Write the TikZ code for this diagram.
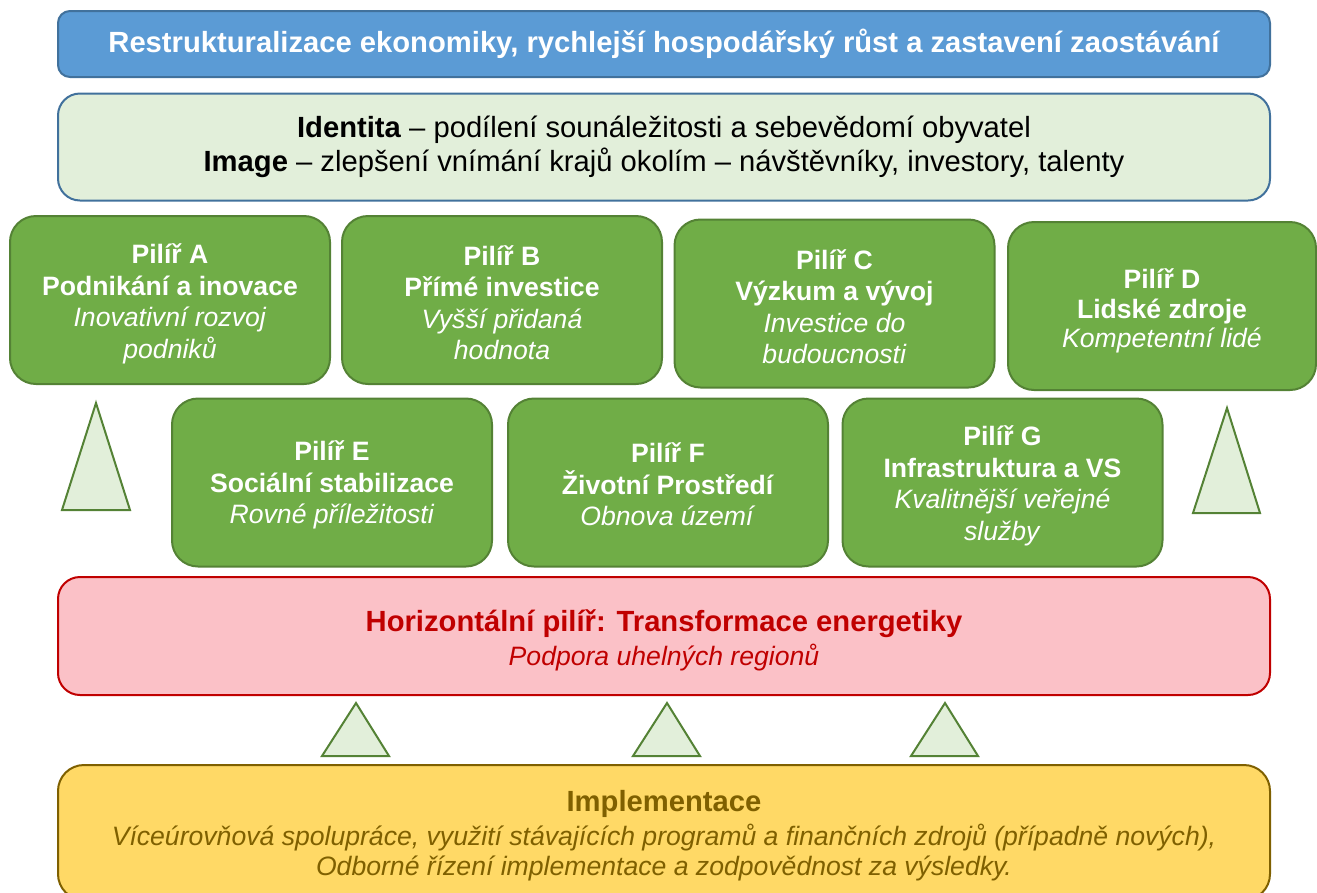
\documentclass[tikz,border=0pt]{standalone}
\usepackage{fontspec}
\setmainfont{Liberation Sans}
\definecolor{titlefill}{HTML}{5B9BD5}
\definecolor{blueline}{HTML}{41719C}
\definecolor{lightgreen}{HTML}{E2EFDA}
\definecolor{pillarfill}{HTML}{70AD47}
\definecolor{pillarline}{HTML}{548235}
\definecolor{pinkfill}{HTML}{FBC1C7}
\definecolor{darkred}{HTML}{C00000}
\definecolor{yellowfill}{HTML}{FFD966}
\definecolor{brownish}{HTML}{7F6000}
\newcommand\bigfs{\fontsize{29.2}{34}\selectfont}
\newcommand\smallfs{\fontsize{26.6}{31.5}\selectfont}
\begin{document}
\begin{tikzpicture}[x=1pt,y=-1pt,
  box/.style={draw, line width=2pt, align=center, inner sep=0pt},
  label text/.style={align=center, inner sep=0pt},
  titlebox/.style={box, fill=titlefill, draw=blueline, rounded corners=12pt, text=white, font=\bigfs\bfseries},
  identbox/.style={box, fill=lightgreen, draw=blueline, rounded corners=22pt, font=\bigfs},
  pillar/.style={box, fill=pillarfill, draw=pillarline, rounded corners=26pt, minimum width=320pt, minimum height=168pt},
  ptext/.style={label text, text=white, font=\smallfs},
  horizbox/.style={box, fill=pinkfill, draw=darkred, rounded corners=22pt},
  htext/.style={label text, text=darkred, font=\fontsize{26.6}{34}\selectfont},
  implbox/.style={box, fill=yellowfill, draw=brownish, rounded corners=26pt},
  itext/.style={label text, text=brownish, font=\fontsize{26.6}{34}\selectfont},
  tri/.style={draw=pillarline, fill=lightgreen, line width=2pt}
]
\useasboundingbox (0,0) rectangle (1317,892);

\node[titlebox, minimum width=1212pt, minimum height=66pt] (title) at (664,44)
  {Restrukturalizace ekonomiky, rychlejší hospodářský růst a zastavení zaostávání};

\node[identbox, minimum width=1212pt, minimum height=107pt] (ident) at (664,147)
  {\textbf{Identita} – podílení sounáležitosti a sebevědomí obyvatel\\
   \textbf{Image} – zlepšení vnímání krajů okolím – návštěvníky, investory, talenty};

\node[pillar] (A) at (170,300) {};
\node[ptext] (At) at (170,304)
  {\textbf{Pilíř A}\\ \textbf{Podnikání a inovace}\\ \textit{Inovativní rozvoj}\\ \textit{podniků}};
\node[pillar] (B) at (502,300) {};
\node[ptext] (Bt) at (502,302.5)
  {\textbf{Pilíř B}\\ \textbf{Přímé investice}\\ \textit{Vyšší přidaná}\\ \textit{hodnota}};
\node[pillar] (C) at (834.5,303.5) {};
\node[ptext] (Ct) at (834.5,306.5)
  {\textbf{Pilíř C}\\ \textbf{Výzkum a vývoj}\\ \textit{Investice do}\\ \textit{budoucnosti}};
\node[pillar, minimum width=308pt] (D) at (1162,306) {};
\node[ptext, font=\fontsize{26.6}{29.5}\selectfont] (Dt) at (1162,311)
  {\textbf{Pilíř D}\\ \textbf{Lidské zdroje}\\ \textit{Kompetentní lidé}};

\node[pillar] (E) at (332,482.5) {};
\node[ptext] (Et) at (332,485)
  {\textbf{Pilíř E}\\ \textbf{Sociální stabilizace}\\ \textit{Rovné příležitosti}};
\node[pillar] (F) at (668,482.5) {};
\node[ptext] (Ft) at (668,484.5)
  {\textbf{Pilíř F}\\ \textbf{Životní Prostředí}\\ \textit{Obnova území}};
\node[pillar] (G) at (1002.5,482.5) {};
\node[ptext] (Gt) at (1002.5,486)
  {\textbf{Pilíř G}\\ \textbf{Infrastruktura a VS}\\ \textit{Kvalitnější veřejné}\\ \textit{služby}};

\draw[tri] (96,403) -- (130,510) -- (62,510) -- cycle;
\draw[tri] (1227,408) -- (1260,513) -- (1193,513) -- cycle;

\node[horizbox, minimum width=1212pt, minimum height=118pt] (H) at (664,636) {};
\node[htext] (Ht) at (664,640)
  {{\bigfs\bfseries Horizontální pilíř: Transformace energetiky}\\ \textit{Podpora uhelných regionů}};

\draw[tri] (356,703) -- (389,756) -- (322,756) -- cycle;
\draw[tri] (667,703) -- (700,756) -- (633,756) -- cycle;
\draw[tri] (945,703) -- (978,756) -- (911,756) -- cycle;

\node[implbox, minimum width=1212pt, minimum height=135pt] (I) at (664,832.5) {};
\node[itext] (It) at (664,836)
  {{\bigfs\bfseries Implementace}\\
   \textit{Víceúrovňová spolupráce, využití stávajících programů a finančních zdrojů (případně nových),}\\[-4pt]
   \textit{Odborné řízení implementace a zodpovědnost za výsledky.}};
\end{tikzpicture}
\end{document}
